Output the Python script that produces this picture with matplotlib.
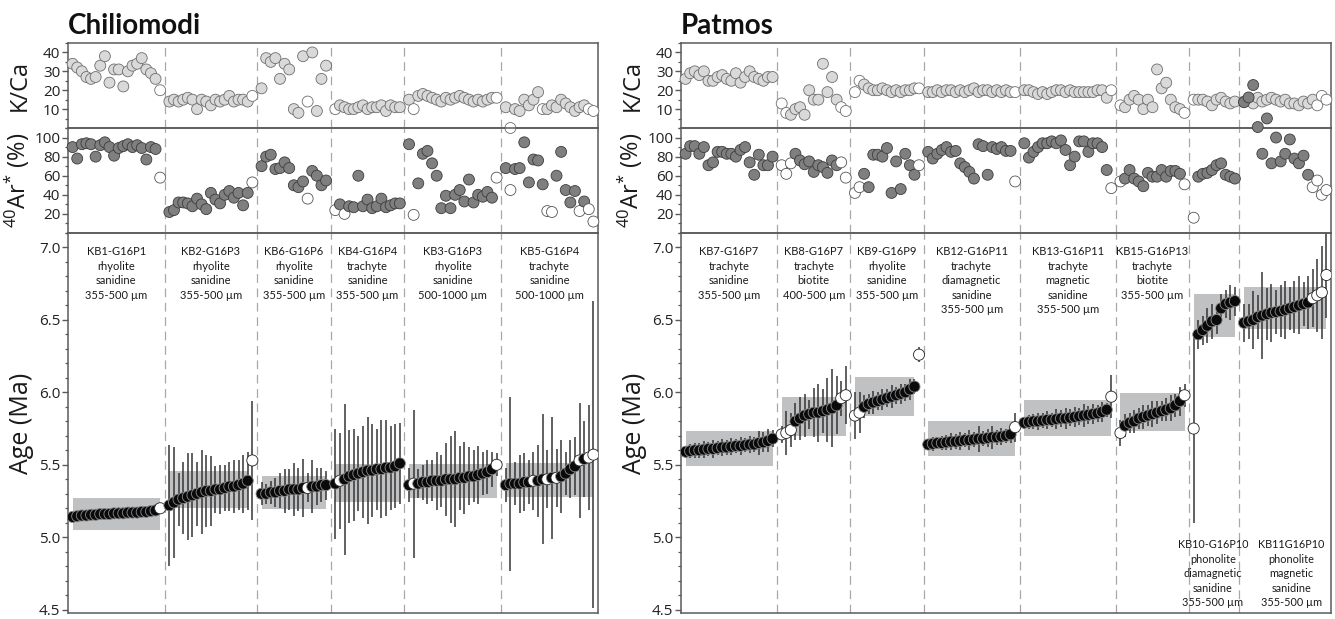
import matplotlib
matplotlib.use("Agg")
import matplotlib.pyplot as plt
from matplotlib.ticker import MultipleLocator, FormatStrFormatter
import numpy as np

# ---------------- Chiliomodi data ----------------
chi_labels = ["KB1-G16P1\nrhyolite\nsanidine\n355-500 µm",
              "KB2-G16P3\nrhyolite\nsanidine\n355-500 µm",
              "KB6-G16P6\nrhyolite\nsanidine\n355-500 µm",
              "KB4-G16P4\ntrachyte\nsanidine\n355-500 µm",
              "KB3-G16P3\nrhyolite\nsanidine\n500-1000 µm",
              "KB5-G16P4\ntrachyte\nsanidine\n500-1000 µm"]
chi_label_pos = ["top"] * 6

chi_kca = [[34, 32, 30, 27, 26, 27, 33, 38, 24, 31, 31, 22, 30, 33, 34, 37, 31, 29, 26, 20],
           [14, 15, 14, 15, 16, 15, 10, 15, 14, 12, 15, 14, 15, 17, 14, 15, 15, 14, 17],
           [21, 37, 35, 37, 26, 34, 31, 10, 8, 38, 14, 40, 9, 26, 33],
           [10, 12, 11, 10, 10, 11, 12, 10, 11, 11, 12, 9, 12, 11, 11],
           [15, 10, 17, 18, 17, 16, 15, 14, 16, 15, 16, 17, 16, 15, 14, 15, 14, 15, 16, 16],
           [11, 0, 10, 9, 15, 12, 15, 19, 10, 10, 12, 11, 15, 13, 11, 9, 11, 12, 10, 9]]
chi_kca_open = [[19], [18], [10], [0], [1, 19], [1, 8, 18, 19]]

chi_ar = [[90, 78, 93, 94, 93, 80, 92, 95, 90, 81, 89, 91, 93, 90, 92, 89, 77, 90, 88, 58],
          [22, 24, 32, 32, 31, 28, 36, 30, 25, 42, 35, 31, 40, 44, 37, 42, 29, 42, 53],
          [70, 80, 82, 67, 68, 74, 68, 50, 48, 54, 36, 65, 60, 50, 55],
          [24, 30, 20, 28, 27, 60, 28, 35, 26, 28, 36, 27, 29, 31, 31],
          [93, 19, 52, 83, 86, 73, 60, 26, 39, 26, 40, 45, 33, 56, 32, 40, 38, 43, 37, 58],
          [68, 45, 67, 68, 95, 53, 77, 76, 51, 23, 22, 60, 85, 45, 32, 44, 23, 33, 25, 12]]
chi_ar_open = [[19], [18], [10], [0, 2], [1, 19], [1, 9, 10, 16, 18, 19]]

chi_age = [[5.14, 5.145, 5.15, 5.15, 5.155, 5.155, 5.16, 5.16, 5.16, 5.165, 5.165, 5.165, 5.17, 5.17, 5.17, 5.175, 5.175, 5.18, 5.185, 5.20],
           [5.22, 5.24, 5.26, 5.27, 5.28, 5.29, 5.30, 5.31, 5.32, 5.32, 5.33, 5.33, 5.34, 5.35, 5.35, 5.36, 5.37, 5.39, 5.53],
           [5.30, 5.30, 5.31, 5.31, 5.32, 5.32, 5.33, 5.33, 5.33, 5.34, 5.34, 5.35, 5.35, 5.36, 5.36],
           [5.37, 5.39, 5.40, 5.42, 5.43, 5.44, 5.45, 5.46, 5.46, 5.47, 5.47, 5.48, 5.48, 5.49, 5.51],
           [5.36, 5.37, 5.37, 5.38, 5.38, 5.39, 5.39, 5.39, 5.40, 5.40, 5.40, 5.41, 5.41, 5.42, 5.42, 5.43, 5.44, 5.45, 5.47, 5.50],
           [5.36, 5.37, 5.37, 5.37, 5.38, 5.38, 5.39, 5.39, 5.40, 5.40, 5.41, 5.41, 5.42, 5.44, 5.47, 5.49, 5.53, 5.54, 5.55, 5.57]]
chi_age_err = [[0.02, 0.02, 0.02, 0.02, 0.02, 0.02, 0.02, 0.02, 0.02, 0.02, 0.02, 0.02, 0.02, 0.02, 0.02, 0.02, 0.02, 0.02, 0.02, 0.03],
               [0.42, 0.38, 0.18, 0.25, 0.30, 0.29, 0.22, 0.29, 0.25, 0.24, 0.16, 0.17, 0.16, 0.17, 0.18, 0.17, 0.20, 0.20, 0.41],
               [0.08, 0.07, 0.08, 0.10, 0.12, 0.15, 0.14, 0.18, 0.15, 0.20, 0.10, 0.18, 0.13, 0.12, 0.10],
               [0.38, 0.33, 0.52, 0.32, 0.32, 0.26, 0.32, 0.37, 0.32, 0.28, 0.34, 0.33, 0.29, 0.29, 0.28],
               [0.12, 0.51, 0.10, 0.12, 0.15, 0.14, 0.20, 0.18, 0.25, 0.30, 0.33, 0.22, 0.25, 0.20, 0.18, 0.20, 0.15, 0.15, 0.12, 0.08],
               [0.12, 0.60, 0.15, 0.20, 0.20, 0.15, 0.20, 0.25, 0.45, 0.20, 0.42, 0.20, 0.25, 0.15, 0.20, 0.20, 0.40, 0.26, 0.36, 1.06]]
chi_age_open = [[19], [18], [10], [1], [1, 19], [6, 9, 11, 16, 18, 19]]

chi_mean = [5.158, 5.33, 5.31, 5.375, 5.387, 5.396]
chi_mean_err = [0.11, 0.127, 0.115, 0.13, 0.119, 0.117]
chi_mean_skip_end = [0, 1, 0, 0, 0, 0]

# ---------------- Patmos data ----------------
pat_labels = ["KB7-G16P7\ntrachyte\nsanidine\n355-500 µm",
              "KB8-G16P7\ntrachyte\nbiotite\n400-500 µm",
              "KB9-G16P9\nrhyolite\nsanidine\n355-500 µm",
              "KB12-G16P11\ntrachyte\ndiamagnetic\nsanidine\n355-500 µm",
              "KB13-G16P11\ntrachyte\nmagnetic\nsanidine\n355-500 µm",
              "KB15-G16P13\ntrachyte\nbiotite\n355-500 µm",
              "KB10-G16P10\nphonolite\ndiamagnetic\nsanidine\n355-500 µm",
              "KB11G16P10\nphonolite\nmagnetic\nsanidine\n355-500 µm"]
pat_label_pos = ["top"] * 6 + ["bottom"] * 2

pat_kca = [[26, 29, 30, 28, 30, 25, 25, 27, 28, 26, 25, 29, 24, 27, 30, 27, 26, 25, 27, 27],
           [13, 8, 7, 10, 11, 7, 20, 15, 15, 34, 19, 27, 15, 11, 9],
           [19, 25, 23, 21, 20, 20, 21, 20, 19, 20, 19, 20, 20, 21, 21],
           [19, 19, 20, 19, 20, 20, 19, 20, 19, 20, 21, 19, 20, 20, 19, 20, 19, 20, 19, 19],
           [20, 20, 19, 18, 19, 18, 19, 20, 20, 19, 20, 19, 19, 19, 19, 19, 20, 20, 16, 20],
           [12, 11, 15, 17, 15, 10, 15, 11, 31, 21, 24, 15, 11, 10, 8],
           [15, 15, 15, 14, 12, 15, 16, 14, 13, 14],
           [14, 15, 13, 16, 14, 15, 16, 15, 14, 15, 13, 13, 12, 14, 13, 15, 12, 17, 15]]
pat_kca_open = [[], [0, 1, 13, 14], [0, 1, 14], [19], [19], [0, 14], [0], [16, 17, 18]]

pat_ar = [[83, 91, 91, 83, 90, 71, 74, 85, 85, 83, 83, 80, 87, 90, 74, 61, 82, 71, 71, 80],
          [71, 62, 73, 83, 76, 72, 75, 64, 71, 69, 63, 76, 71, 74, 58],
          [42, 48, 62, 48, 82, 82, 80, 89, 42, 75, 46, 83, 71, 61, 71],
          [85, 78, 83, 87, 90, 85, 86, 73, 69, 64, 57, 93, 91, 61, 90, 88, 90, 86, 86, 54],
          [94, 79, 85, 90, 94, 94, 96, 94, 97, 87, 71, 80, 96, 96, 85, 94, 94, 90, 66, 47],
          [54, 57, 66, 57, 54, 49, 63, 59, 59, 66, 59, 65, 65, 62, 51],
          [16, 59, 62, 63, 66, 71, 73, 61, 59, 57],
          [137, 142, 155, 111, 83, 120, 73, 100, 75, 83, 98, 78, 73, 81, 61, 48, 55, 40, 45]]
pat_ar_open = [[], [0, 1, 2, 13, 14], [0, 1, 14], [19], [19], [0, 14], [0], [15, 16, 17, 18]]

pat_age = [[5.59, 5.595, 5.60, 5.60, 5.605, 5.61, 5.61, 5.615, 5.62, 5.62, 5.625, 5.63, 5.63, 5.635, 5.64, 5.64, 5.65, 5.655, 5.665, 5.68],
           [5.71, 5.72, 5.74, 5.80, 5.82, 5.84, 5.85, 5.86, 5.86, 5.87, 5.88, 5.89, 5.91, 5.96, 5.98],
           [5.84, 5.86, 5.90, 5.92, 5.93, 5.94, 5.95, 5.96, 5.97, 5.98, 5.99, 6.00, 6.02, 6.04, 6.26],
           [5.64, 5.645, 5.65, 5.65, 5.655, 5.66, 5.66, 5.665, 5.67, 5.67, 5.675, 5.68, 5.68, 5.685, 5.69, 5.69, 5.695, 5.70, 5.71, 5.76],
           [5.79, 5.795, 5.80, 5.80, 5.805, 5.81, 5.81, 5.815, 5.82, 5.82, 5.825, 5.83, 5.835, 5.84, 5.845, 5.85, 5.855, 5.865, 5.88, 5.97],
           [5.72, 5.77, 5.79, 5.80, 5.82, 5.83, 5.84, 5.85, 5.86, 5.87, 5.88, 5.89, 5.91, 5.94, 5.98],
           [5.75, 6.40, 6.43, 6.46, 6.49, 6.50, 6.58, 6.61, 6.62, 6.63],
           [6.48, 6.49, 6.50, 6.52, 6.53, 6.54, 6.55, 6.555, 6.56, 6.57, 6.58, 6.59, 6.60, 6.61, 6.62, 6.65, 6.67, 6.69, 6.81]]
pat_age_err = [[0.04, 0.05, 0.05, 0.05, 0.06, 0.05, 0.06, 0.05, 0.06, 0.05, 0.06, 0.05, 0.06, 0.05, 0.06, 0.05, 0.08, 0.07, 0.08, 0.06],
               [0.06, 0.15, 0.12, 0.13, 0.15, 0.15, 0.10, 0.17, 0.20, 0.15, 0.22, 0.27, 0.20, 0.12, 0.20],
               [0.16, 0.14, 0.08, 0.07, 0.08, 0.06, 0.07, 0.06, 0.08, 0.06, 0.07, 0.06, 0.07, 0.05, 0.05],
               [0.04, 0.05, 0.04, 0.05, 0.05, 0.06, 0.05, 0.06, 0.05, 0.07, 0.05, 0.09, 0.05, 0.06, 0.08, 0.05, 0.06, 0.05, 0.06, 0.10],
               [0.04, 0.05, 0.05, 0.06, 0.05, 0.06, 0.05, 0.07, 0.06, 0.07, 0.06, 0.07, 0.06, 0.08, 0.06, 0.07, 0.06, 0.07, 0.05, 0.15],
               [0.09, 0.08, 0.07, 0.08, 0.07, 0.08, 0.07, 0.09, 0.08, 0.07, 0.08, 0.09, 0.08, 0.10, 0.08],
               [0.65, 0.10, 0.10, 0.12, 0.12, 0.10, 0.10, 0.10, 0.12, 0.10],
               [0.13, 0.12, 0.20, 0.15, 0.30, 0.18, 0.20, 0.15, 0.18, 0.20, 0.15, 0.18, 0.20, 0.15, 0.18, 0.20, 0.25, 0.32, 0.30]]
pat_age_open = [[], [0, 1, 2, 13, 14], [0, 1, 14], [19], [19], [0, 14], [0], [15, 16, 17, 18]]

pat_mean = [5.613, 5.833, 5.969, 5.68, 5.825, 5.863, 6.528, 6.582]
pat_mean_err = [0.118, 0.133, 0.135, 0.12, 0.125, 0.132, 0.148, 0.147]
pat_mean_skip_end = [0, 0, 1, 0, 0, 0, 0, 0]

# ---------------- styling ----------------
W, H = 1335, 619
KCA_FILL, KCA_EDGE = "#d9d9d9", "#6e6e6e"
AR_FILL, AR_EDGE = "#7f7f7f", "#3c3c3c"
AGE_FILL, AGE_EDGE = "#0a0a0a", "#8a8a8a"
RECT_C = "#bfc1c3"
DASH_C = "#a8a8a8"
SPINE_C = "#5a5a5a"
TICK_FONT = "Open Sans"
LABEL_FONT = "Open Sans"
TEXT_FONT = "Lato"
MS_TOP = 62
MS_AGE = 64
chi_label_dx = [0, 0, 0, 0, 0, 0]
pat_label_dx = [0, 0, 0, 0, 0, 0, -0.3, 1.4]

fig = plt.figure(figsize=(W / 100, H / 100), dpi=100)


def rect(x0, x1, y0, y1):
    return [x0 / W, 1 - y1 / H, (x1 - x0) / W, (y1 - y0) / H]


def style_axis(ax):
    for s in ax.spines.values():
        s.set_color(SPINE_C)
        s.set_linewidth(1.1)
    ax.tick_params(axis="y", which="major", direction="out", length=4, width=1,
                   color=SPINE_C, labelsize=11, pad=1.5)
    ax.tick_params(axis="y", which="minor", direction="out", length=2.5, width=0.9,
                   color=SPINE_C)
    ax.tick_params(axis="x", which="both", bottom=False, labelbottom=False)
    for lab in ax.get_yticklabels():
        lab.set_fontfamily(TICK_FONT)
        lab.set_color("#222222")


def draw_site(x0, x1, title, labels, label_pos, label_dx, kca, kca_open, ar, ar_open,
              age, age_err, age_open, mean, mean_err, skip_end):
    ax_k = fig.add_axes(rect(x0, x1, 43, 128))
    ax_a = fig.add_axes(rect(x0, x1, 128, 233))
    ax_g = fig.add_axes(rect(x0, x1, 233, 613))
    for ax in (ax_k, ax_a, ax_g):
        ax.set_facecolor("none")

    counts = [len(a) for a in age]
    widths = [n + 1 for n in counts]
    starts = np.concatenate([[0], np.cumsum(widths)[:-1]])
    total = float(np.sum(widths))

    for g in range(len(counts)):
        xs = starts[g] + 1 + np.arange(counts[g])
        # K/Ca
        fc = [("white" if i in kca_open[g] else KCA_FILL) for i in range(counts[g])]
        ax_k.scatter(xs, kca[g], s=MS_TOP, c=fc, edgecolors=KCA_EDGE, linewidths=0.6,
                     zorder=3, clip_on=False)
        # 40Ar*
        fc = [("white" if i in ar_open[g] else AR_FILL) for i in range(counts[g])]
        ec = [("#555555" if i in ar_open[g] else AR_EDGE) for i in range(counts[g])]
        ax_a.scatter(xs, ar[g], s=MS_TOP, c=fc, edgecolors=ec, linewidths=0.6,
                     zorder=3, clip_on=False)
        # Age
        a = np.array(age[g])
        e = np.array(age_err[g])
        last = counts[g] - 1 - skip_end[g]
        ax_g.add_patch(plt.Rectangle((xs[0], mean[g] - mean_err[g]),
                                     xs[last] - xs[0], 2 * mean_err[g],
                                     facecolor=RECT_C, edgecolor="none", zorder=1))
        ax_g.vlines(xs, a - e, a + e, color="#353535", linewidth=1.1, zorder=2)
        fc = [("white" if i in age_open[g] else AGE_FILL) for i in range(counts[g])]
        ec = [("#222222" if i in age_open[g] else AGE_EDGE) for i in range(counts[g])]
        ax_g.scatter(xs, a, s=MS_AGE, c=fc, edgecolors=ec, linewidths=0.6, zorder=3)

        cx = starts[g] + widths[g] / 2.0 + label_dx[g]
        if label_pos[g] == "top":
            ax_g.text(cx, 0.966, labels[g], transform=ax_g.get_xaxis_transform(),
                      ha="center", va="top", fontsize=8, linespacing=1.4,
                      family=TEXT_FONT, color="#1a1a1a", zorder=4)
        else:
            ax_g.text(cx, 0.012, labels[g], transform=ax_g.get_xaxis_transform(),
                      ha="center", va="bottom", fontsize=7.8, linespacing=1.4,
                      family=TEXT_FONT, color="#1a1a1a", zorder=4)

    for ax in (ax_k, ax_a, ax_g):
        ax.set_xlim(0, total)
        for b in starts[1:]:
            ax.axvline(b, color=DASH_C, linewidth=0.9, linestyle=(0, (7, 4.5)),
                       zorder=1.5)

    ax_k.set_ylim(0, 45)
    ax_k.yaxis.set_major_locator(plt.FixedLocator([10, 20, 30, 40]))
    ax_k.yaxis.set_minor_locator(MultipleLocator(5))
    ax_a.set_ylim(0, 110)
    ax_a.yaxis.set_major_locator(plt.FixedLocator([20, 40, 60, 80, 100]))
    ax_a.yaxis.set_minor_locator(MultipleLocator(10))
    ax_g.set_ylim(4.477, 7.1)
    ax_g.yaxis.set_major_locator(MultipleLocator(0.5))
    ax_g.yaxis.set_major_formatter(FormatStrFormatter("%.1f"))
    ax_g.yaxis.set_minor_locator(MultipleLocator(0.1))

    for ax in (ax_k, ax_a, ax_g):
        style_axis(ax)

    ax_k.set_ylabel("K/Ca", fontsize=17, family=LABEL_FONT, color="#1a1a1a")
    ax_a.set_ylabel(r"$^{40}$Ar$^{*}$ (%)", fontsize=17, family=LABEL_FONT,
                    color="#1a1a1a")
    ax_g.set_ylabel("Age (Ma)", fontsize=18, family=LABEL_FONT, color="#1a1a1a")
    ax_k.yaxis.set_label_coords(-36.0 / (x1 - x0), 0.5)
    ax_a.yaxis.set_label_coords(-36.0 / (x1 - x0), 0.5)
    ax_g.yaxis.set_label_coords(-34.0 / (x1 - x0), 0.5)

    fig.text(x0 / W, 1 - 34 / H, title, fontsize=20, fontweight="bold",
             family=TEXT_FONT, color="#111111", ha="left", va="baseline")


plt.rcParams["mathtext.fontset"] = "custom"
plt.rcParams["mathtext.rm"] = "Open Sans"
plt.rcParams["mathtext.it"] = "Open Sans:italic"

draw_site(68, 598, "Chiliomodi", chi_labels, chi_label_pos, chi_label_dx, chi_kca, chi_kca_open,
          chi_ar, chi_ar_open, chi_age, chi_age_err, chi_age_open,
          chi_mean, chi_mean_err, chi_mean_skip_end)
draw_site(681, 1331, "Patmos", pat_labels, pat_label_pos, pat_label_dx, pat_kca, pat_kca_open,
          pat_ar, pat_ar_open, pat_age, pat_age_err, pat_age_open,
          pat_mean, pat_mean_err, pat_mean_skip_end)

fig.savefig("out.png", dpi=100, facecolor="white")
